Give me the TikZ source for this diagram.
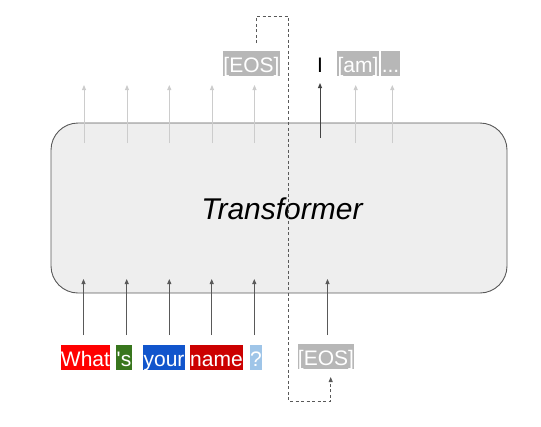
\documentclass[tikz,border=0pt]{standalone}
\usepackage{fontspec}
\setmainfont{Liberation Sans}
\usetikzlibrary{arrows.meta}
\definecolor{boxfill}{HTML}{EEEEEE}
\definecolor{boxline}{HTML}{595959}
\definecolor{inline}{HTML}{595959}
\definecolor{outlight}{HTML}{CCCCCC}
\definecolor{outdark}{HTML}{434343}
\definecolor{eosgray}{HTML}{B7B7B7}
\definecolor{wred}{HTML}{FF0000}
\definecolor{wgreen}{HTML}{38761D}
\definecolor{wblue}{HTML}{1155CC}
\definecolor{wdred}{HTML}{CC0000}
\definecolor{wlblue}{HTML}{9FC5E8}
\tikzset{
  word/.style={fill=#1, text=white, inner xsep=0.4pt, inner ysep=1pt, text height=20.5pt, text depth=2.5pt, font=\fontsize{21}{21}\selectfont},
  inarrow/.style={draw=inline, line width=0.9pt, -{Triangle[length=5pt,width=4pt]}},
  outlightarrow/.style={draw=outlight, line width=0.9pt, -{Triangle[length=5pt,width=4pt]}},
  outdarkarrow/.style={draw=outdark, line width=1pt, -{Triangle[length=5pt,width=4pt]}},
  loopline/.style={draw=boxline, line width=0.8pt, dash pattern=on 3pt off 2.5pt, -{Triangle[length=5pt,width=4pt]}},
}
\begin{document}
\begin{tikzpicture}[x=1pt,y=-1pt]
\useasboundingbox (0,0) rectangle (541,426);
% Transformer box
\node[draw=boxline, fill=boxfill, line width=0.9pt, rounded corners=27pt, minimum width=456pt, minimum height=170pt, inner sep=0pt] (tf) at (279,208) {};
\node[font=\fontsize{30}{30}\selectfont\itshape] (tflabel) at (282,209) {Transformer};
% input words
\node[word=wred]   (w1) at (85.5,357.5) {What};
\node[word=wgreen] (w2) at (124,357.5) {\textquotesingle s};
\node[word=wblue]  (w3) at (164,357.5) {your};
\node[word=wdred]  (w4) at (216.5,357.5) {name};
\node[word=wlblue] (w5) at (256,357.5) {?};
\node[word=eosgray](w6) at (326,356.5) {[EOS]};
% top outputs
\node[word=eosgray](o1) at (251.5,63) {[EOS]};
\node[word=white, text=black] (o2) at (320,63) {I};
\node[word=eosgray](o3) at (358,63) {[am]};
\node[word=eosgray](o4) at (390.5,63) {.{}.{}.};
% input arrows
\foreach \i/\x in {1/83.5,2/126.7,3/169.3,4/211.7,5/254.3,6/327.5}{
  \coordinate (is\i) at (\x,335);
  \coordinate (ie\i) at (\x,279);
  \draw[inarrow] (is\i) -- (ie\i);
}
% light output arrows
\foreach \i/\x in {1/84,2/127,3/169.3,4/212,5/254.5,6/355.7,7/392.3}{
  \coordinate (os\i) at (\x,143);
  \coordinate (oe\i) at (\x,85);
  \draw[outlightarrow] (os\i) -- (oe\i);
}
% dark output arrow
\coordinate (ds) at (320,138);
\coordinate (de) at (320,83);
\draw[outdarkarrow] (ds) -- (de);
% loop back dashed line
\coordinate (l0) at (256.7,43);
\coordinate (l1) at (256.7,16);
\coordinate (l2) at (288.3,16);
\coordinate (l3) at (288.3,401);
\coordinate (l4) at (330.7,401);
\coordinate (l5) at (330.7,377);
\draw[loopline] (l0) -- (l1) -- (l2) -- (l3) -- (l4) -- (l5);
\end{tikzpicture}
\end{document}
